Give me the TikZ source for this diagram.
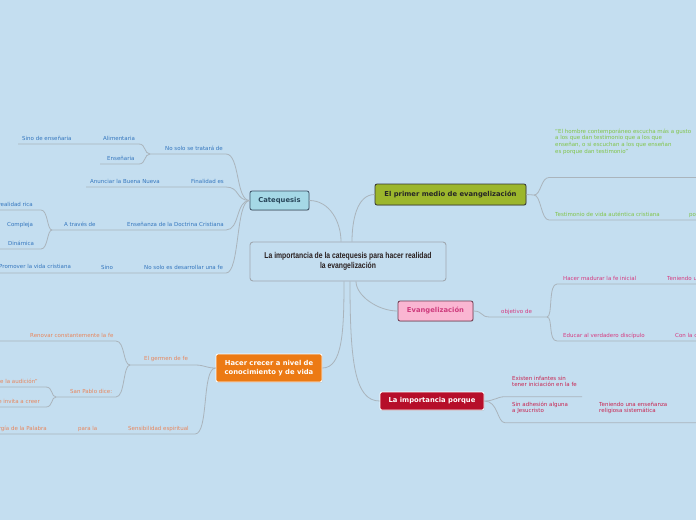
\documentclass[tikz,border=0pt]{standalone}
\usepackage{fontspec}
\setmainfont{DejaVu Sans}
\newfontfamily\condfont[FakeStretch=0.8]{Liberation Sans}
\usetikzlibrary{shadows}
\definecolor{bgc}{RGB}{196,222,240}
\definecolor{lnc}{RGB}{170,180,188}
\definecolor{tblue}{RGB}{52,118,190}
\definecolor{torange}{RGB}{232,134,92}
\definecolor{tgreen}{RGB}{128,196,72}
\definecolor{tpink}{RGB}{214,58,128}
\definecolor{tred}{RGB}{200,36,80}
\definecolor{fcyan}{RGB}{165,216,230}
\definecolor{folive}{RGB}{156,182,44}
\definecolor{fpink}{RGB}{250,182,210}
\definecolor{fred}{RGB}{182,14,42}
\definecolor{forange}{RGB}{236,122,20}
\definecolor{catbd}{RGB}{60,80,100}
\definecolor{cattx}{RGB}{40,70,90}
\definecolor{evbd}{RGB}{110,60,80}
\definecolor{evtx}{RGB}{206,60,125}
\definecolor{ctbd}{RGB}{160,168,176}
\definecolor{cttx}{RGB}{40,30,30}
\begin{document}
\begin{tikzpicture}[x=1pt,y=-1pt,
 lbl/.style={inner sep=0pt, anchor=base west, font=\fontsize{5.5}{6.6}\selectfont, align=left},
 lble/.style={lbl, anchor=base east, align=right},
 ln/.style={draw=lnc, line width=0.8pt},
 topic/.style={rounded corners=2pt, line width=0.8pt, font=\fontsize{6.8}{8.4}\selectfont\bfseries, inner sep=0pt, align=center, drop shadow={opacity=0.25, shadow xshift=0.6pt, shadow yshift=-0.8pt}},
]
\fill[bgc] (0,0) rectangle (696,520);
\useasboundingbox (0,0) rectangle (696,520);
\clip (0,0) rectangle (696,520);

% main nodes
\node[draw=ctbd, line width=0.9pt, rounded corners=3pt, fill=bgc, minimum width=196pt, minimum height=39pt, inner sep=0pt, align=center, text=cttx, font=\condfont\bfseries\fontsize{8.5}{10.5}\selectfont] (c) at (348,261.5) {La importancia de la catequesis para hacer realidad\\la evangelización};
\node[topic, fill=fcyan, draw=catbd, text=cattx, minimum width=59pt, minimum height=19pt] (cat) at (279.5,200.5) {Catequesis};
\node[topic, fill=folive, draw=black!80, text=black!85, minimum width=151pt, minimum height=21pt] (pm) at (450.5,194.5) {El primer medio de evangelización};
\node[topic, fill=fpink, draw=evbd, text=evtx, minimum width=75pt, minimum height=20pt] (ev) at (435.5,311) {Evangelización};
\node[topic, fill=fred, draw=white, text=white, minimum width=104pt, minimum height=18pt] (ip) at (432,401) {La importancia porque};
\node[topic, fill=forange, draw=white, text=white, minimum width=106pt, minimum height=28pt] (hc) at (269,368) {Hacer crecer a nivel de\\conocimiento y de vida};

% center connectors
\draw[ln] (cat.east) .. controls +(20,0) and +(0,-20) .. ([xshift=-7pt]c.north);
\draw[ln] (pm.west) .. controls +(-18,0) and +(0,-20) .. ([xshift=4pt]c.north);
\draw[ln] ([xshift=8pt]c.south) .. controls +(0,14) and +(-20,0) .. (ev.west);
\draw[ln] ([xshift=2pt]c.south) .. controls +(0,80) and +(-25,0) .. (ip.west);
\draw[ln] ([xshift=-4pt]c.south) .. controls +(0,50) and +(20,0) .. (hc.east);

% Catequesis branches
\coordinate (j1) at (150,154);
\draw[ln] (cat.west) .. controls +(-14,0) and +(14,0) .. (226,154) -- (j1);
\node[lbl,text=tblue] (t1) at (165,150.5) {No solo se tratará de};
\draw[ln] (j1) .. controls +(-6,0) and +(7,0) .. (139,144) -- (18,144);
\node[lbl,text=tblue] (t1a) at (103,140.5) {Alimentaria};
\node[lbl,text=tblue] (t1c) at (22,140.5) {Sino de enseñaria};
\draw[ln] (j1) .. controls +(-6,0) and +(7,0) .. (139,164) -- (100,164);
\node[lbl,text=tblue] (t1b) at (107,160.5) {Enseñaria};

\draw[ln] (cat.west) .. controls +(-14,0) and +(14,0) .. (226,187) -- (86,187);
\node[lbl,text=tblue] (t2) at (191,183.5) {Finalidad es};
\node[lbl,text=tblue] (t2a) at (90,183.5) {Anunciar la Buena Nueva};

\coordinate (j3) at (52,230);
\draw[ln] (cat.west) .. controls +(-14,0) and +(14,0) .. (226,230) -- (j3);
\node[lbl,text=tblue] (t3) at (127,226.5) {Enseñanza de la Doctrina Cristiana};
\node[lbl,text=tblue] (t3a) at (64,226.5) {A través de};
\draw[ln] (j3) .. controls +(-5,0) and +(7,0) .. (41,210) -- (0,210);
\draw[ln] (j3) .. controls +(-5,0) and +(7,0) .. (41,249) -- (0,249);
\node[lble,text=tblue] (t3b) at (33,206.5) {una realidad rica};
\node[lbl,text=tblue] (t3c) at (7,226.5) {Compleja};
\node[lbl,text=tblue] (t3d) at (8,245.5) {Dinámica};

\draw[ln] (cat.west) .. controls +(-14,0) and +(14,0) .. (226,273) -- (0,273);
\node[lbl,text=tblue] (t4) at (144,269.5) {No solo es desarrollar una fe};
\node[lbl,text=tblue] (t4a) at (101,269.5) {Sino};
\node[lbl,text=tblue] (t4b) at (-1,268.5) {Promover la vida cristiana};

% Hacer crecer branches
\coordinate (h1) at (130,365);
\draw[ln] (hc.west) .. controls +(-10,0) and +(10,0) .. (195,365) -- (h1);
\node[lbl,text=torange] (u1) at (144,360.5) {El germen de fe};
\draw[ln] (h1) .. controls +(-7,0) and +(9,0) .. (116,341) -- (0,341);
\node[lbl,text=torange] (u1a) at (30,337.5) {Renovar constantemente la fe};
\coordinate (h2) at (56,397);
\draw[ln] (h1) .. controls +(-7,0) and +(9,0) .. (116,397) -- (h2);
\node[lbl,text=torange] (u1b) at (70,393.5) {San Pablo dice:};
\draw[ln] (h2) .. controls +(-5,0) and +(7,0) .. (46,387) -- (0,387);
\draw[ln] (h2) .. controls +(-5,0) and +(7,0) .. (46,407) -- (0,407);
\node[lble,text=torange] (u1c) at (38,383.5) {“La fe viene de la audición”};
\node[lble,text=torange] (u1d) at (40,403.5) {La Palabra que invita a creer};
\draw[ln] (hc.west) .. controls +(-14,0) and +(14,0) .. (195,434) -- (0,434);
\node[lbl,text=torange] (u2) at (128,430.5) {Sensibilidad espiritual};
\node[lbl,text=torange] (u2a) at (78,430.5) {para la};
\node[lble,text=torange] (u2b) at (47,430.5) {Energía de la Palabra};

% Primer medio branches
\coordinate (p0) at (534,195);
\draw[ln] (pm.east) -- (p0);
\draw[ln] (p0) .. controls +(7,0) and +(-8,0) .. (549,177.5) -- (696,177.5);
\draw[ln] (p0) .. controls +(7,0) and +(-8,0) .. (549,220) -- (696,220);
\node[lbl,text=tgreen,font=\fontsize{5.5}{6.8}\selectfont] (g1) at (555,153.5) {“El hombre contemporáneo escucha más a gusto\\a los que dan testimonio que a los que\\enseñan, o si escuchan a los que enseñan\\es porque dan testimonio”};
\node[lbl,text=tgreen] (g2) at (555,216.5) {Testimonio de vida auténtica cristiana};
\node[lbl,text=tgreen] (g2a) at (689,216.5) {por};

% Evangelizacion branches
\coordinate (e1) at (547,317);
\draw[ln] (ev.east) .. controls +(10,0) and +(-10,0) .. (490,317) -- (e1);
\node[lbl,text=tpink] (v1) at (501,313.5) {objetivo de};
\draw[ln] (e1) .. controls +(6,0) and +(-9,0) .. (557,284) -- (696,284);
\draw[ln] (e1) .. controls +(6,0) and +(-9,0) .. (557,341) -- (696,341);
\node[lbl,text=tpink] (v1a) at (563,280.5) {Hacer madurar la fe inicial};
\node[lbl,text=tpink] (v1b) at (667,280.5) {Teniendo una fe};
\node[lbl,text=tpink] (v1c) at (563,337.5) {Educar al verdadero discípulo};
\node[lbl,text=tpink] (v1d) at (675,337.5) {Con la catequesis};

% Importancia branches
\draw[ln] (ip.east) .. controls +(10,0) and +(-8,0) .. (505,396.7) -- (582,396.7);
\draw[ln] (ip.east) .. controls +(14,0) and +(-8,0) .. (505,422.7) -- (696,422.7);
\node[lbl,text=tred,font=\fontsize{5.5}{6.1}\selectfont] (r1) at (512,386.5) {Existen infantes sin\\tener iniciación en la fe};
\node[lbl,text=tred,font=\fontsize{5.5}{6.5}\selectfont] (r2) at (512,412.5) {Sin adhesión alguna\\a Jesucristo};
\node[lbl,text=tred,font=\fontsize{5.5}{6.5}\selectfont] (r2a) at (599,412.5) {Teniendo una enseñanza\\religiosa sistemática};
\end{tikzpicture}
\end{document}
